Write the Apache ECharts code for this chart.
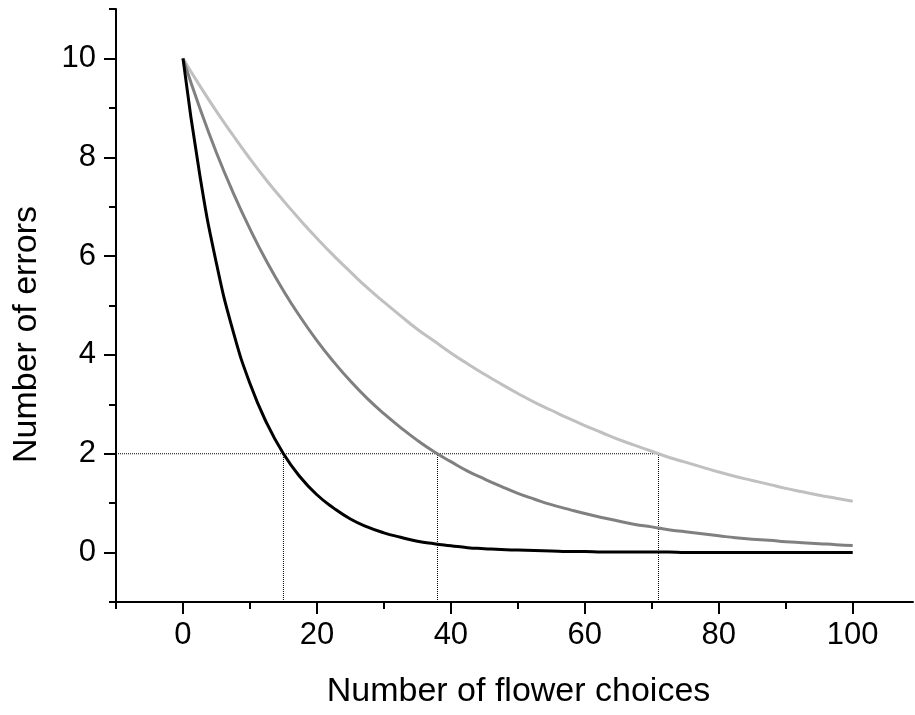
<!DOCTYPE html>
<html>
<head>
<meta charset="utf-8">
<script src="https://cdn.jsdelivr.net/npm/echarts@6/dist/echarts.min.js"></script>
<style>html,body{margin:0;padding:0;background:#fff}#c{width:915px;height:715px}</style>
</head>
<body>
<div id="c"></div>
<script>
var xValues = [0,2.5,5,7.5,10,12.5,15,17.5,20,22.5,25,27.5,30,32.5,35,37.5,40,42.5,45,47.5,50,52.5,55,57.5,60,62.5,65,67.5,70,72.5,75,77.5,80,82.5,85,87.5,90,92.5,95,97.5,100];
var fastCurve = [10,7.65,5.85,4.47,3.42,2.62,2.00,1.53,1.17,0.90,0.68,0.52,0.40,0.31,0.23,0.18,0.14,0.10,0.08,0.06,0.05,0.04,0.03,0.02,0.02,0.01,0.01,0.01,0.01,0.01,0,0,0,0,0,0,0,0,0,0,0];
var midCurve = [10,9.00,8.09,7.28,6.55,5.89,5.30,4.77,4.29,3.86,3.47,3.12,2.81,2.53,2.27,2.04,1.84,1.65,1.49,1.34,1.20,1.08,0.97,0.88,0.79,0.71,0.64,0.57,0.52,0.46,0.42,0.38,0.34,0.30,0.27,0.25,0.22,0.20,0.18,0.16,0.145];
var slowCurve = [10,9.45,8.93,8.44,7.97,7.53,7.12,6.73,6.36,6.01,5.68,5.36,5.07,4.79,4.52,4.28,4.04,3.82,3.61,3.41,3.22,3.04,2.88,2.72,2.57,2.43,2.29,2.17,2.05,1.93,1.83,1.73,1.63,1.54,1.46,1.38,1.30,1.23,1.16,1.10,1.04];
var refLevel = 2;
var refCrossings = [15, 38, 71];
var xMajorTicks = [0,20,40,60,80,100];
var xMinorTicks = [-10,10,30,50,70,90];
var yMajorTicks = [0,2,4,6,8,10];
var yMinorTicks = [-1,1,3,5,7,9,11];
var xRange = [-10, 109];
var yRange = [-1, 11];

function pairs(ys){ return xValues.map(function(x,i){ return [x, ys[i]]; }); }

var FONT = 'Liberation Sans, Arial, sans-serif';
var chart = echarts.init(document.getElementById('c'), null, {renderer:'canvas'});

var series = [];
series.push({
  type:'line', xAxisIndex:0, yAxisIndex:0, symbol:'none', silent:true,
  data:[[xRange[0], refLevel],[refCrossings[refCrossings.length-1], refLevel]],
  lineStyle:{color:'#000', width:1, type:'dotted'}
});
refCrossings.forEach(function(x){
  series.push({
    type:'line', xAxisIndex:0, yAxisIndex:0, symbol:'none', silent:true,
    data:[[x, yRange[0]],[x, refLevel]],
    lineStyle:{color:'#000', width:1, type:'dotted'}
  });
});
[[slowCurve,'#c0c0c0'],[midCurve,'#808080'],[fastCurve,'#000000']].forEach(function(s){
  series.push({
    type:'line', xAxisIndex:0, yAxisIndex:0, symbol:'none', smooth:true, silent:true,
    data:pairs(s[0]), lineStyle:{color:s[1], width:3}
  });
});

chart.setOption({
  animation:false,
  backgroundColor:'#ffffff',
  grid:{left:116, right:2, top:9, bottom:113, containLabel:false},
  xAxis:[{
    type:'value', min:xRange[0], max:xRange[1], position:'bottom',
    name:'Number of flower choices', nameLocation:'middle', nameGap:73,
    nameTextStyle:{fontFamily:FONT, fontSize:34, color:'#000', padding:[0,0,0,8]},
    axisLine:{show:true, onZero:false, lineStyle:{color:'#000', width:2}},
    axisTick:{show:true, length:12, lineStyle:{color:'#000', width:2}, customValues:xMajorTicks},
    axisLabel:{fontFamily:FONT, fontSize:31, color:'#000', margin:18, customValues:xMajorTicks},
    splitLine:{show:false}
  },{
    type:'value', min:xRange[0], max:xRange[1], position:'bottom',
    axisLine:{show:false, onZero:false},
    axisTick:{show:true, length:7, lineStyle:{color:'#000', width:2}, customValues:xMinorTicks},
    axisLabel:{show:false},
    splitLine:{show:false}
  }],
  yAxis:[{
    type:'value', min:yRange[0], max:yRange[1], position:'left',
    name:'Number of errors', nameLocation:'middle', nameGap:72,
    nameTextStyle:{fontFamily:FONT, fontSize:34, color:'#000', padding:[0,58,0,0]},
    axisLine:{show:true, onZero:false, lineStyle:{color:'#000', width:2}},
    axisTick:{show:true, length:12, lineStyle:{color:'#000', width:2}, customValues:yMajorTicks},
    axisLabel:{fontFamily:FONT, fontSize:31, color:'#000', margin:20, customValues:yMajorTicks},
    splitLine:{show:false}
  },{
    type:'value', min:yRange[0], max:yRange[1], position:'left',
    axisLine:{show:false, onZero:false},
    axisTick:{show:true, length:7, lineStyle:{color:'#000', width:2}, customValues:yMinorTicks},
    axisLabel:{show:false},
    splitLine:{show:false}
  }],
  series:series
});
</script>
</body>
</html>
